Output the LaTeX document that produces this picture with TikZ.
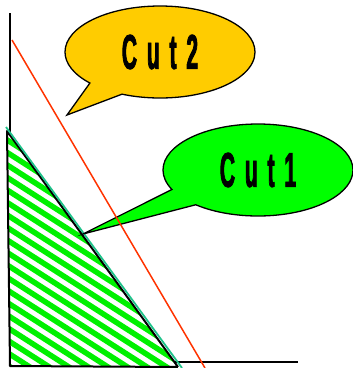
\documentclass[tikz,border=0pt]{standalone}
\usepackage{fontspec}
\usepackage{tikz}
\usetikzlibrary{shapes.callouts}
\usepackage{xcolor}
\definecolor{cutonegreen}{HTML}{00FF00}
\definecolor{cuttwoyellow}{HTML}{FFCC00}
\definecolor{cutred}{HTML}{FF3300}
\definecolor{cutteal}{HTML}{1FC28A}
\definecolor{stripegreen}{HTML}{00F000}
\newfontfamily\cutfont[FakeStretch=0.43,FakeBold=1.5,LetterSpace=20]{Liberation Sans}

\tikzset{
  axisline/.style={draw=black,line width=1.3pt},
  stripe/.style={draw=stripegreen,line width=5.5pt},
  cutcallout/.style={ellipse callout,draw=black,line width=1.3pt,
    minimum width=190pt,minimum height=92pt,inner sep=0pt,
    callout pointer arc=24,
    font=\cutfont\bfseries\fontsize{49}{52}\selectfont}
}

\begin{document}
\begin{tikzpicture}[x=1pt,y=-1pt]
  \useasboundingbox (0,0) rectangle (353,368);

  % axes
  \coordinate (ytop) at (10,13);
  \coordinate (origin) at (10,362);
  \coordinate (xend) at (298,362);
  \draw[axisline] (ytop) -- (origin) -- (xend);

  % feasible region, striped
  \coordinate (apex) at (7,131);
  \coordinate (botleft) at (10,366);
  \coordinate (botright) at (178,367);
  \fill[white] (apex) -- (botleft) -- (botright) -- cycle;
  \begin{scope}
    \clip (apex) -- (botleft) -- (botright) -- cycle;
    \foreach \c in {104,116.5,...,370}
      \draw[stripe] (-10,\c) -- (200,\c+134.4);
  \end{scope}
  \draw[black,line width=2pt,line join=round] (botright) -- (apex) -- (botleft) -- (botright);

  % cut 1 (tight)
  \coordinate (oneA) at (6,127);
  \coordinate (oneB) at (182,368);
  \draw[cutteal,line width=1.8pt] (oneA) -- (oneB);

  % callouts
  \coordinate (tiptwo) at (67,115);
  \coordinate (tipone) at (83,234);
  \node[cutcallout,fill=cuttwoyellow,callout absolute pointer={(tiptwo)}] (cuttwo) at (160,52) {Cut2};
  \node[cutcallout,fill=cutonegreen,callout absolute pointer={(tipone)}] (cutone) at (258,170) {Cut1};

  % cut 2
  \coordinate (twoA) at (12,40);
  \coordinate (twoB) at (205,368);
  \draw[cutred,line width=1.5pt] (twoA) -- (twoB);
\end{tikzpicture}
\end{document}
